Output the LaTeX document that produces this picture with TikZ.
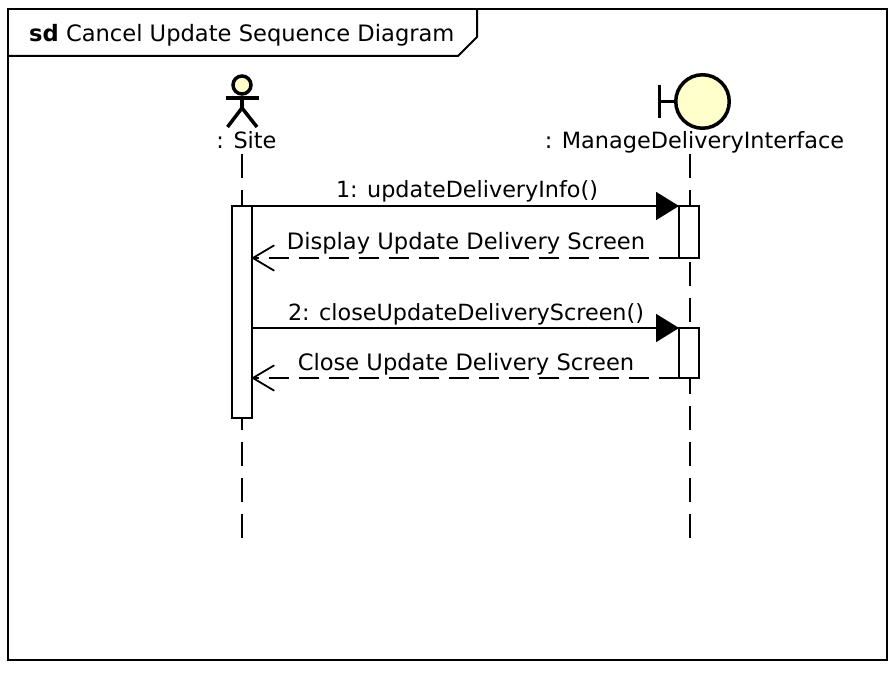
\documentclass[tikz,border=0pt]{standalone}
\usepackage{fontspec}
\setmainfont{DejaVu Sans}
\usetikzlibrary{arrows.meta}
\definecolor{umlfill}{HTML}{FFFFCC}
\tikzset{
  x=1pt,y=-1pt,
  frameline/.style={draw=black,line width=2pt},
  actorline/.style={draw=black,line width=3.5pt},
  lifeline/.style={draw=black,line width=2pt,dash pattern=on 24pt off 12pt},
  actbox/.style={draw=black,fill=white,line width=2pt,minimum width=20pt,inner sep=0pt,outer sep=0pt},
  sendmsg/.style={draw=black,line width=1.8pt,-{Triangle[length=23pt,width=28pt]}},
  retmsg/.style={draw=black,line width=1.8pt,dash pattern=on 20pt off 10pt,-{Straight Barb[length=21pt,width=25pt,line width=1.8pt,round=false]}},
  msglabel/.style={font=\fontsize{22.6}{26}\selectfont,inner sep=0pt,anchor=base},
  numlabel/.style={font=\fontsize{22.3}{26}\selectfont,inner sep=0pt,anchor=base},
  namelabel/.style={font=\fontsize{22.4}{26}\selectfont,inner sep=0pt,anchor=base},
}
\begin{document}
\begin{tikzpicture}
\useasboundingbox (0,0) rectangle (896,676);
\fill[white] (0,0) rectangle (896,676);
% frame
\draw[frameline] (8,9) rectangle (887,660);
\draw[frameline] (8,56) -- (458,56) -- (477,37) -- (477,9);
\node[inner sep=0pt,anchor=base west,font=\fontsize{22.6}{26}\selectfont] (title) at (29,42) {\textbf{sd} Cancel Update Sequence Diagram};
% actor
\node[circle,draw=black,fill=umlfill,line width=3.5pt,minimum size=18pt,inner sep=0pt] (head) at (242,85) {};
\coordinate (neck) at (242,108);
\coordinate (armL) at (226,98);
\coordinate (armR) at (259,98);
\coordinate (legL) at (227.5,127);
\coordinate (legR) at (257,127);
\draw[actorline] (head.south) -- (neck);
\draw[actorline] (armL) -- (armR);
\draw[actorline] (legL) -- (neck) -- (legR);
\node[namelabel] (sitelabel) at (246.5,149) {: Site};
% boundary
\node[circle,draw=black,fill=umlfill,line width=3.5pt,minimum size=53.5pt,inner sep=0pt] (bound) at (702.5,101.5) {};
\coordinate (barT) at (659.5,85);
\coordinate (barB) at (659.5,118);
\coordinate (barM) at (659.5,101.5);
\draw[actorline] (barT) -- (barB);
\draw[actorline] (barM) -- (bound.west);
\node[namelabel] (mdilabel) at (694.5,149) {: ManageDeliveryInterface};
% lifelines
\coordinate (siteTop) at (242,154);
\coordinate (siteEnd) at (242,538);
\coordinate (mdiTop) at (689.5,154);
\coordinate (mdiEnd) at (689.5,538);
\draw[lifeline] (siteTop) -- (siteEnd);
\draw[lifeline] (mdiTop) -- (mdiEnd);
% activations
\node[actbox,minimum height=212pt] (a1) at (242,312) {};
\node[actbox,minimum height=52pt] (b1) at (689,232) {};
\node[actbox,minimum height=50pt] (b2) at (689,353) {};
% messages
\draw[sendmsg] (a1.north east) -- (b1.north west);
\draw[retmsg] (b1.south west) -- (a1.east |- b1.south west);
\draw[sendmsg] (a1.east |- b2.north west) -- (b2.north west);
\draw[retmsg] (b2.south west) -- (a1.east |- b2.south west);
\node[numlabel] (m1) at (467,198) {1: updateDeliveryInfo()};
\node[msglabel] (m2) at (466,250) {Display Update Delivery Screen};
\node[numlabel] (m3) at (466,320) {2: closeUpdateDeliveryScreen()};
\node[msglabel] (m4) at (466,370) {Close Update Delivery Screen};
\end{tikzpicture}
\end{document}
